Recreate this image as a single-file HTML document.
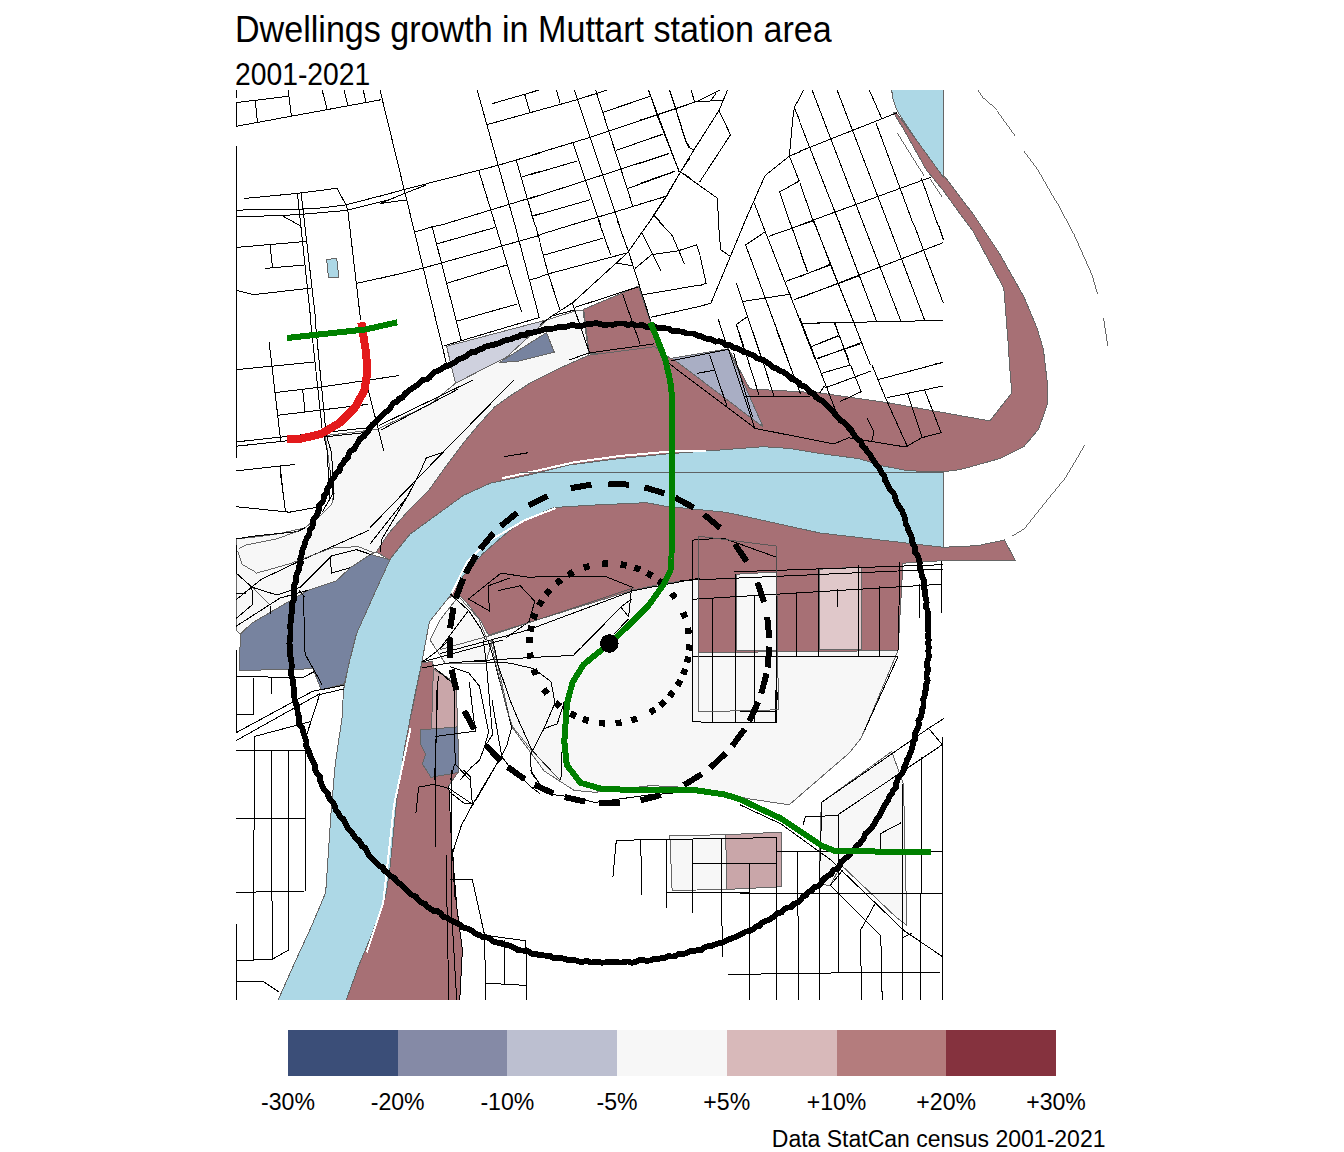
<!DOCTYPE html>
<html><head><meta charset="utf-8">
<style>
html,body{margin:0;padding:0;background:#fff;}
body{width:1344px;height:1152px;position:relative;overflow:hidden;font-family:"Liberation Sans",sans-serif;}
.t{position:absolute;white-space:nowrap;color:#000;line-height:1;}
#title{left:235px;top:11px;font-size:34.1px;transform:scaleY(1.085);transform-origin:0 0;}
#sub{left:235px;top:59px;font-size:28.3px;transform:scaleY(1.09);transform-origin:0 0;}
#map{position:absolute;left:0;top:0;}
.lg{position:absolute;top:1030px;height:46px;width:110px;}
.ll{position:absolute;top:1091.3px;font-size:23.1px;width:100px;text-align:center;}
#cap{right:238.5px;top:1128.3px;font-size:23px;}
</style></head><body>
<div class="t" id="title">Dwellings growth in Muttart station area</div>
<div class="t" id="sub">2001-2021</div>
<svg id="map" width="1344" height="1000" viewBox="0 0 1344 1000" shape-rendering="crispEdges">
<clipPath id="mc"><rect x="0" y="90" width="1344" height="910"/></clipPath>
<g stroke-width="1" stroke-linejoin="round" clip-path="url(#mc)">
<polygon fill="#f7f7f7" stroke="#666" points="459.3,595.4 467.1,603.2 480.6,620.6 488.4,635.1 633.5,590 662.5,583.8 700,578.6 698.1,652.6 898,650.6 864.8,729.9 860.3,739.2 849.3,752.9 789.2,804.8 750,799 695.5,787.9 650.9,785.6 595.1,792.3 573.9,790.3 544.2,771 511.4,726.3 492.1,640 486,663 445,663 430,640 440,620"/>
<polygon fill="#f7f7f7" stroke="#666" points="325.3,435.6 376.9,429.4 430,404.4 455.5,383.2 506.7,357 547.1,319.8 575,311 583,310 588.8,355.2 560,368 530,383.1 510.6,395.6 495,406.6 479.4,423.8 463.8,442.5 445,467.5 429.4,489.4 409.1,509.7 388.8,533.1 376.3,551.9 370.6,554.4 350.3,567.7 336.3,580.9 308.1,590.3 251.9,623.1 240.2,634.1 236.3,630 236.3,538.8 253.4,537.2 276.9,534.1 305,527.8 322.2,513.8 331.6,504.4 334.1,493.4 330,470"/>
<polygon fill="#f7f7f7" stroke="#666" points="822,802.1 891.7,751.5 903.5,784.3 906.8,925.1 895.8,916.9 841.1,865 830.2,885.5 819.3,884.1 820.6,815.8"/>
<polygon fill="#c9a6a9" stroke="#666" points="725.7,834.7 750,833.6 781,832.2 781,886.8 750,888.3 726.8,889.4"/>
<polygon fill="#f7f7f7" stroke="#666" points="669.9,835.8 725.7,834.7 726.8,889.4 672.1,890.5"/>
<polygon fill="#a77075" stroke="#666" points="422,662 424.9,662.5 432.1,661.3 434,668 449.2,678.9 456.4,691 457.7,727.5 458.3,772 448.8,785.7 451.5,843.1 457,908.8 462.4,949.8 459.7,1000.4 346.2,1000.4 358.5,966.2 372.2,933.4 385.9,895.1 390,867.7 396.8,799.4 405,744.7"/>
<polygon fill="#a77075" stroke="#666" points="583.7,309.3 638.4,286.2 650,320.8 661.5,360 589.2,353"/>
<polygon fill="#a77075" stroke="#666" points="893.5,112.9 896,112.3 914.2,137.2 943.4,174.9 974.5,215.9 999.3,253.2 1024.1,297.2 1037,328 1043.4,349.2 1047.1,380.8 1047.1,405.1 1038.5,429.4 1024,446.4 999.6,458.6 960.7,469.5 941.3,472 907.3,470.7 882.9,465.9 858.6,458.6 820,453.5 790,448.5 763.1,446.7 714.5,450.4 665.9,454 617.3,458.9 568.6,465 530,474.7 490.2,483.2 463.4,495.4 436.7,514.8 409.9,534.3 389.3,559.8 376.3,551.9 388.8,533.1 409.1,509.7 429.4,489.4 445,467.5 463.8,442.5 479.4,423.8 495,406.6 510.6,395.6 530,383.1 560,368 588.8,355.2 654.7,346.7 670.8,358.8 728.4,348.7 749.8,388.9 819.7,392.9 887.8,402.7 989.9,420.9 1011.8,392.9 1009.4,363.8 1008.3,345 1003.8,288.2 973.3,231.7 960,213.8 943.4,190.7 926.4,170 903.3,128.7"/>
<polygon fill="#a9aec4" stroke="#666" points="672.1,358.1 728.4,348.7 763.2,427.1"/>
<polygon fill="#cfd1de" stroke="#666" points="446.5,346.3 547.1,319.8 506.7,357 455.5,383.2"/>
<polygon fill="#77839f" stroke="#666" points="499.5,362.4 546.5,332.6 554.3,352.3 517.4,361.4"/>
<polygon fill="#77839f" stroke="#666" points="240.2,634.1 239.7,670.4 302.9,669.2 312.7,668 321.2,689.9 344.3,683.8 349.1,663.1 356.4,634 375.9,590.2 390.2,559.8 370.6,554.4 350.3,567.7 336.3,580.9 308.1,590.3 251.9,623.1"/>
<polygon fill="#add8e6" stroke="#666" points="891.2,87 943.4,87 943.4,177.3 915.4,138.5 898.4,112.9 896,108.1 892.9,98.4"/>
<polygon fill="#a77075" stroke="#666" points="943.2,547.3 977.8,545.6 1004.5,540 1015.4,560.7 950,560.2 903,563.2 898,650.6 698.1,652.6 698.1,579 700,578.6 662.5,583.8 633.5,590 488.4,635.1 480.6,620.6 467.1,603.2 459.3,595.4 448.8,597.5 463.4,575.6 482.9,553.7 502.3,536.7 520,522.1 554,507.5 593,505.1 646.4,502.7 665.9,506.3 726.7,512.4 820,533"/>
<polygon fill="#f7f7f7" stroke="#666" points="736.2,574.2 776.4,572 776.4,650.6 736.2,650.6"/>
<polygon fill="#e0c8ca" stroke="#666" points="819.6,569.2 861.8,567 861.8,649.6 819.6,649.6"/>
<polygon fill="#add8e6" stroke="#666" points="943.2,472 907.3,470.7 882.9,465.9 858.6,458.6 820,453.5 790,448.5 763.1,446.7 714.5,450.4 665.9,454 617.3,458.9 568.6,465 530,474.7 490.2,483.2 463.4,495.4 436.7,514.8 409.9,534.3 390.5,558.6 375.9,590.2 356.4,634 349.1,663.1 343.5,690 342.1,717.3 335.3,763.8 331.2,810.3 325.7,892.4 312,925.2 295.6,960.7 277.9,1000.4 346.2,1000.4 358.5,966.2 372.2,933.4 385.9,895.1 390,867.7 396.8,799.4 405,744.7 415.9,690 422.1,660.7 429.4,621.8 448.8,597.5 463.4,575.6 482.9,553.7 502.3,536.7 520,522.1 554,507.5 593,505.1 646.4,502.7 665.9,506.3 726.7,512.4 820,533 943.2,547.3"/>
<polygon fill="#c9a6a9" stroke="#666" points="433.4,669.2 449.2,678.9 456.4,691 457.7,727.5 431.5,728.7"/>
<polygon fill="#77839f" stroke="#666" points="420,729.9 457.7,726.9 458.9,772.4 430.9,777.3 422.4,763.9 425.5,754.2 421.2,745.7 420,743"/>
<polygon fill="#add8e6" stroke="#666" points="326.2,259.6 336.3,258.4 337.5,263.3 338.5,277.2 328.4,277.2 327.2,263.8"/>
<polyline fill="none" stroke="#fff" stroke-width="2" points="502.3,478.2 540,470 574.7,462.2 620,456 671.1,451.4 705.6,451.2"/>
<polyline fill="none" stroke="#fff" stroke-width="2" points="451.6,593.5 467.1,561.6 488.4,541.3 525.1,520 555.5,508.1"/>
<polyline fill="none" stroke="#fff" stroke-width="2" points="410.5,728.3 394.1,804.8 383.1,903.3 366.7,952.5"/>
</g>
<path fill="none" stroke="#000" stroke-width="1" d="M236.3 180 L236.3 320 M244 198.5 L297.4 193.4 L336.9 188.3 L346 204.9 L347.8 210.4 L360.6 320 M297.4 193.4 L310.8 320 M301.1 192.8 L315.7 320 M236.3 210.1 L299.9 209.2 L322.3 207.9 L346 204.9 L390 193.4 M236.3 216.4 L278.6 215.8 L305.3 214 L346.6 210.4 L390 199.4 M283.5 216.4 L299.9 225.6 M236.3 247.4 L306.5 241.4 M270.1 245 L272.5 268.1 M265.2 268.4 L304.1 265 M236.3 290.3 L251.9 294.2 L259.2 294 L310.8 288.1 M357 283.3 L390 276 M530 92.5 L538.7 90.1 M530 112.7 L577.4 99.6 L606.8 90.1 M556.5 90.1 L560.1 103.2 M574.3 90.1 L619.3 225 M595.6 90.1 L632.7 205.9 M573.1 143.3 L600.5 225 M648.5 90.1 L657 114.8 L679.4 172.5 M669.5 90.1 L675.8 109.3 L685.5 140.9 L690 147.6 M530 207.7 L534.9 225 M530 155.5 L590.7 137.2 L657.6 114.8 L690 103.8 M602.9 112.3 L649.7 96.5 M615.7 150.6 L662.4 134.2 M530 174.9 L577.4 160.9 M530 198.6 L668.5 153.6 M628.4 188.3 L675.2 171.3 M532.4 216.2 L590.1 199.8 M571.3 225 L615 212 L666.1 196.2 M690 157.9 L680.6 171.9 L666.1 196.2 L647.2 225 M680.6 171.9 L690 177.9 M653.9 215.2 L663 225 M803.6 90.1 L800 96.5 M800 122.7 L840.1 225 M812.1 90.1 L863.8 225 M837.1 90.1 L888.7 225 M869.3 90.1 L882 119 M875.9 122.7 L913.6 225 M921.5 178.5 L937.9 225 M800 183.4 L814.6 225 M800 151.2 L897.2 112.7 M800 225 L835.2 212 L930.6 177.3 M815.2 225 L870.5 365 M840.1 225 L876.5 321 M863.8 225 L900.8 321 M888.7 225 L924.5 319.8 M914.2 225 L943.4 303.4 M938.5 225 L943.4 239.6 M800 251.1 L807.3 271.8 M800 276.6 L829.8 264.5 M800 297.9 L943.4 242.6 M801.8 323.4 L943.4 320.4 M800 318.5 L837.7 416 M834.6 322.2 L849.8 365 M811.5 346.5 L838.3 335.6 M816.4 359.2 L860.7 342.8 M934.9 364.1 L943.4 362.3 M640 99.6 L649.7 96.5 M648.5 90.1 L679.5 172.5 M669.8 90.1 L675.8 108.7 L686.2 142.1 L688.6 147 L693.5 150 M691 90.1 L694.7 102 M640 120.2 L697.1 101.4 L722.6 100.6 M697.1 101.4 L720.2 90.1 M711.1 100.2 L715.9 93.5 M727.5 90.1 L719 110.5 L693.5 150.6 L680.1 172.5 L666.7 196.2 L647.3 225 M719 110.5 L730.5 134.8 L699.5 182.2 M681.3 172.5 L717.1 198 L719 225 M640 142.1 L663.1 134.2 M640 163.4 L669.2 153.6 M640 183.4 L674.6 171.3 M640 204.1 L666.7 196.2 M654 215.6 L662.5 225 M800 97.1 L794.3 107.5 L792.5 121.4 L789.4 155.5 M794.3 107.5 L800 121.4 M800 151.8 L789.4 156.1 L765.1 175.5 L743.3 225 M789.4 156.1 L799.2 181 L779.7 191.9 L790.6 225 M753.6 201.6 L762.7 225 M380 90.1 L412.8 225 M477.2 90.1 L514.9 225 M491.8 103.8 L539.2 90.1 M524.6 94.1 L530 112.3 M487.5 124.5 L540 109.9 M380 196.2 L404.3 189.5 L498.5 165.2 L540 153 M380 203.5 L405.5 193.1 L425.6 185.2 M380 203.5 L407.3 199.8 M479 171.3 L495.4 225 M516.1 159.7 L534.9 225 M520.9 177.3 L540 171.3 M441.4 225 L540 195 M530.6 216.2 L540 213.8 M236.3 102.6 L288.2 96.3 M236.3 102.6 L236.3 126.3 M236.3 126.3 L381.2 99.7 M255.3 100.3 L257.5 123.4 M288.2 90 L291.4 115.9 M322.1 90 L327.5 110.5 M344 90 L348.1 105.8 M363.2 90 L366.1 102.2 M412.8 225 L446.8 365 M432.2 226.8 L461.4 341 M495.4 225 L521.5 311.9 M514.9 225 L539.2 317.3 M535.5 225 L540 242 M415.2 232 L432.2 226.8 L440.7 225 M437.1 243.8 L495.4 227.4 M380 278.5 L423.1 268.1 L540 235.3 M446.8 283.3 L506.4 265.1 M457.1 321 L517.3 304 M530 279.7 L540 277.2 M443.8 345.9 L540 317.3 M435.8 652.1 L446.1 643 L452.2 640 M422.4 661.9 L502.6 640 M422.4 667.9 L447.9 663.1 L471 661.3 L509.9 663.1 L533.6 668.6 L551.2 681.9 L554.9 703.2 L543.9 728.7 L530.6 754.2 L531.2 772.4 L536.6 780 M573.7 655.2 L580 647.9 M422.4 661.9 L435.8 652.1 M434.6 667.9 L450.4 681.3 M450.4 666.7 L468.6 672.8 L479.5 686.2 L488.6 732.3 L484.4 746.9 L479.5 760.3 L471 767.6 L460.1 780 M469.2 681.9 L475.3 731.1 L434.6 736.6 M483.2 640 L486.2 661.9 L492.5 734.6 L485 746.4 M488 640 L495.3 664.3 L511.1 725 L511.7 727.7 L506.9 745.1 L500.8 757.6 L497.3 763.1 L476 800 M438.2 676.4 L434.6 780 M454 688.6 L455.2 763.9 L469.8 780 M454.6 763.9 L450.4 780 M564.6 700.7 L557.3 723.8 L543.9 728.7 M564 703.2 L560.9 780 M616.3 840.3 L776.8 837.6 M616.3 840.3 L612.9 877.1 M640.8 839.2 L641.5 895 M666.5 839.2 L666.5 908.4 M692.2 839.2 L692.2 912.9 M721.2 838.1 L722.3 957.5 M692.2 863.8 L776.8 863.8 M666.5 892.8 L750 892.8 M727.9 974.2 L750 974.2 M749.1 863.8 L749.1 1001 M450 879.4 L472.3 879.4 L484.6 935.2 L525.9 940.8 L527 1001 M484.6 935.2 L485.7 1001 M504.7 939.6 L504.7 984.3 M485.7 983.2 L525.9 985.4 M450 792.3 L464.5 803.5 L472.3 803.5 L470.1 776.7 L463.4 770 M451.8 770 L451.8 915.1 L456.7 999.9 M530.4 770 L539.3 783.4 L552.7 794.6 L570.5 796.8 L595.1 802.4 M595.1 802.4 L650.9 794.6 L673.2 793.4 M740 711.9 L775.5 711.9 L778.3 690 M740 722.8 L775.5 722.8 L775.5 690 M822 802.1 L928.6 728.3 L943.7 718.7 M928.6 728.3 L942.3 744.7 M942.3 736.5 L942.3 1000.3 M838.4 814.4 L942.3 744.7 M822 802.1 L819.3 881.4 L819.3 1000.3 M838.4 814.4 L838.4 972.9 M802.9 825.3 L805.6 816.3 L838.4 815.8 M776.6 851.3 L942.3 851.3 M740 893.7 L942.3 893.7 M740 974.3 L838.4 972.9 L939.6 972.9 M749.6 863.6 L749.6 1000.3 M776.9 837.6 L776.9 1000.3 M797.4 851.3 L798.8 1000.3 M921.8 757 L920.4 1000.3 M902.7 784.3 L902.7 1000.3 M740 804.8 L781 824 L830.2 859.5 L904 930.6 L942.3 956.5 M830.2 885.5 L842.5 870.4 M875.3 903.2 L860.3 930.6 L861.7 1000.3 M830.2 885.5 L880.8 936 L882.2 1000.3 M880.8 848.6 L880.8 833.5 L901.3 822.6 M902.7 937.4 L912.2 933.3 M236 750.2 L305.2 750.2 M254.6 736.5 L253.2 960.7 M271 750.2 L272.4 959.3 M288.8 750.2 L288.8 949.8 M305.2 750.2 L305.2 891 M236 818.5 L305.2 818.5 M236 892.4 L305.2 891 M236 960.7 L272.4 959.3 L288.8 949.8 M236 923.8 L236 1000.4 M236 981.2 L262.8 981.2 L279.2 992.2 M320.2 692.7 L306.6 735.1 M436.5 690 L435.1 847.2 M415.9 813.1 L418.7 787.1 L433.7 784.3 L448.8 788.4 L473.4 804.8 M448.8 785.7 L451.5 843.1 L457 908.8 L462.4 949.8 L459.7 1000.4 M446 854.1 L448.8 1000.4 M236.2 320 L236.2 458.3 M310.5 320 L322.2 429.4 L326.9 448.1 L330 500 M315.2 320 L326.1 434.1 L331.6 452.8 L333.9 500 M269.1 341.9 L280.8 441.9 M236.2 369.7 L315.2 361.9 M274.5 392.7 L322.2 386.9 L399.5 375.5 M302.7 389.5 L305 412.2 M277.7 415.3 L367.5 404.4 M236.2 441.9 L367.5 427.8 M236.2 446.2 L365.9 432.5 M367.5 387.2 L383.9 451.2 M236.2 470.8 L294.8 464.5 M280 465.3 L283.9 500 M280 470 L285.5 511.4 M236.2 506.7 L289.4 512.2 L315.9 507.5 M236.2 538.8 L258.1 535.6 L297.2 531.7 L305 527.8 M236.2 573.1 L251.9 587.2 L276.9 595 L300.3 587.2 L331.6 555.9 L356.6 549.7 L370.6 554.4 M236.2 599.7 L261.2 579.4 L297.2 562.2 L369.1 530.2 M236.2 593.4 L245.6 593.4 M251.9 587.2 L252.7 604.4 L236.2 618.4 M236.2 626.2 L280 598.1 L308.1 590.3 M270.6 605.9 L270.6 613.8 M303.4 595 L305 650 M298.8 590.3 L305 597.3 M330 557.5 L331.6 573.1 L350.3 567.7 M322.2 512.2 L333.1 493.4 L330 470 M236.2 545 L236.2 573.1 M440 653.5 L527.1 630.3 L633.5 590.6 L700 578 M471 661.2 L532.9 657.4 L573.5 655.4 L621.9 606.1 L631.5 599.3 M449.7 593.5 L469 610.9 L480.6 628.3 L485.5 639.9 M468.1 599.3 L500.9 573.2 L528 577.1 L604.4 576.1 L633.5 587.7 M469 599.3 L489.3 610.9 L488.4 585.8 L509.6 578 M498 590.6 L520.3 585.8 L534.8 601.3 L529 621.6 L505.8 638 M440 648.7 L468.1 610.9 M620.9 607.1 L628.6 616.7 L631.5 588.7 M614.1 634.1 L628.6 618.7 M540 234.6 L587.4 220 M540 243.1 L548.5 274.7 L560 309.9 M543.6 255.2 L603.2 238.2 M598.3 220 L610.5 254.6 M617.1 220 L628.7 252.2 L650.6 320.8 M540 276.5 L549.7 273.5 L627.5 252.8 M650.6 220 L627.5 252.8 L572.8 302.6 L552.1 316 L540 324.5 M615.9 263.1 L632.3 265.6 M634.8 268.6 L651.8 254.6 L677.3 251 L696.7 244.9 L700 255.2 M642.1 233.4 L660.9 270.4 M657.8 220 L672.4 235.8 L677.3 247.3 L684.6 264.3 M643.3 294.7 L700 285 M651.2 317.2 L700 306.3 M572.2 302.6 L589.8 353.6 M574.6 307.5 L638.4 286.8 M622.6 294.1 L640.2 344.5 M552.1 316 L574.6 309.9 M588.6 353 L654.2 343.9 M569.2 360 L588.6 353 M718.2 220 L720.7 249.8 L730.4 256.4 M745.6 220 L710.9 303.2 L700 306.3 M700 255.8 L706.1 283.2 L700 285.6 M760.7 220 L815.4 360 M745.6 244.9 L788.1 360 M789.3 220 L807.5 271.6 M813.6 220 L830.6 265 L837.9 283.2 L853.7 322.1 L860 338.5 M838.5 220 L859.2 275.9 M736.4 283.2 L747.4 316.6 L762 360 M718.2 319 L725.5 341.5 M736.4 324.5 L743.7 348.8 M745.6 244.9 L765.6 231.5 M768.6 236.4 L813.6 220.6 M785.7 281.4 L830.6 265 M743.1 301.4 L790.5 294.1 M794.2 299.6 L859.2 275.9 M802.7 323.3 L860 322.1 M811.8 346.4 L838.5 336 M816.6 358.5 L860 343.9 M736.4 324.5 L747.4 316.6 M834.2 322.7 L848.8 360 M850.6 365 L861.1 391.7 M872 365 L885.4 397.8 L907.3 446.4 M820.9 373.5 L850.1 365 M824.6 388.1 L870.8 371.1 M840.4 401.4 L861.1 391.7 M878.1 379.6 L942.5 362.5 M886.6 397.8 L942.5 386.1 M907.3 392.9 L921.8 436.7 M924.3 389.3 L941.3 433.1 M819.7 392.9 L824.6 385.6 M692.1 540.1 L723.2 538.1 L776.4 557.2 L776.4 722.9 L692.1 721.9 L692.1 540.1 M712.1 599.3 L712.1 722.9 M735.2 574.2 L735.2 722.9 M754.3 596.3 L754.3 722.9 M692.1 599.3 L941.1 584.3 M692.1 656.6 L898 656.6 M796.5 592.3 L796.5 655.6 M818.6 568.2 L818.6 655.6 M858.8 565.2 L858.8 655.6 M879.9 586.3 L879.9 655.6 M900 562.2 L898 650.6 M919.1 584.3 L919.1 618.4 M941.1 561.2 L941.1 613.4 M837.7 589.3 L837.7 607.4 M898 656.6 L864.8 729.9 M236.3 146 L236.3 181 M236.3 676.1 L258 676.7 L301.7 678 L313.8 671.9 M253.8 678 L253.8 714.4 L236.3 714.4 M271.2 678 L271.2 693.8 M304 648 L306 655.8 L321.9 684.3 M503.7 456.8 L527.8 452.8 M800 437.2 L834 443.9 L848.6 437.8 L905.7 447 L921.5 437.8 L942.1 432.4 M866.8 417.8 L874.1 431.8 L871.7 441.5 M236.5 90 L236.5 97.5 M680 580.6 L943 569 M734 571.8 L943 564.7 M670.8 360.8 L727.7 349.4 M668.1 362.8 L755.2 428.4 L820 441.2 M709.6 354.8 L727 406.3 M696.9 373.5 L713.7 370.2 M728.4 348.7 L754.5 427.8 M733.7 353.4 L752.5 417 M744.5 396.3 L810.1 397 M738.4 330 L759.2 395.6 M752.5 330 L773.9 395.6 M776.6 330 L800.7 394.3 M370 527.7 L443.4 451.9 L513.8 380 M370 544 L407.5 496.4 M407.5 496.4 L420 472.2 L426.2 458.1 L444.2 451.9 M407.5 496.4 L381.7 539.4 L380.2 551.9 M379.4 425.3 L473.1 380 M380.9 430 L457.5 389.4 M492.9 640 L497.8 664.3 L510 700 L518.3 720 L532.2 750.6 L559.7 780 M492 700 L495.4 720 L501.7 756.1 L508.6 765.8 L530.8 786.7 L540 793.6 M499 760 L472.3 805 L461.3 825.6 L452.8 852.4 L454 881.5 L455.2 900 M236.3 650 L236.3 732.6 M236.3 732.6 L312.6 691.3 L344.2 685.2 M236.3 740.5 L317.5 695 L344.2 688.9 M254.9 736.3 L310.2 721.7"/>
<path fill="none" stroke="#555" stroke-width="0.9" d="M897.2 133 L923.9 175.5 M930.6 178.5 L942.8 196.8 M237.8 551.2 L242.5 565.3 L256.6 573.1 L289.4 563.8 L331.6 548.1 L358.1 546.6 L373.8 552.8 M239.4 548.1 L245.6 545 L276.9 538.8 L298.8 530.9 M253.4 588.8 L269.1 604.4 M459.3 597.4 L478.7 618.7 L487 639.9 M440 649.6 L488.4 636.1 L633.5 587.7 M698.1 536.1 L776.4 546.1 L778.4 709.8 L698.1 711.8 L698.1 536.1 M520 472.3 L943 472.3 M977.9 90 L983.5 98.5 L997 111 L1015.1 135.8 M1024.1 150.5 L1037.7 168.5 L1055.7 200.1 L1073.8 234 L1091.9 274.6 L1097.5 293.8 M1103.6 318 L1107.7 345.9 M1084.7 445.2 L1065.3 478 L1043.4 504.8 L1024 529.1 L1011.8 536.4 M490.5 640 L495.3 661.9 L507 710 L512.8 726.9 L532.2 751.2 L559.7 780"/>
<path fill="none" stroke="#000" stroke-width="5.8" stroke-linejoin="round" d="M928.1 643.5 L928.8 647.2 L928.3 650.9 L928.7 654.7 L928.6 658.4 L927.2 662 L926.9 665.7 L928.4 669.5 L926.8 673.1 L926.4 676.8 L927.7 680.7 L926.1 684.3 L926.4 688 L925.1 691.6 L924.8 695.3 L923.2 698.8 L923.6 702.7 L923.4 706.4 L921.9 709.9 L921.6 713.7 L920.6 717.3 L918.4 720.6 L919 724.5 L917.7 728 L916.1 731.4 L914.5 734.8 L915.2 738.9 L913.2 742.2 L912.6 745.9 L911.7 749.6 L910.1 753 L909.3 756.6 L906.9 759.7 L906.3 763.5 L904.2 766.6 L903.7 770.5 L902.1 773.8 L899 776.5 L897.6 779.9 L896.1 783.3 L895.9 787.4 L893.2 790.2 L891.9 793.7 L889.5 796.6 L888 800.1 L886 803.2 L884 806.3 L882.5 809.8 L880.6 813 L879.2 816.5 L876.7 819.3 L875.1 822.7 L872.9 825.7 L871 828.9 L868.2 831.5 L865.1 833.9 L864.1 837.7 L862 840.8 L859.5 843.7 L856.6 846.1 L854.5 849.1 L851.2 851.3 L849.8 854.9 L846.9 857.3 L843.9 859.6 L841 862 L839.7 865.9 L837.3 868.8 L833.2 870 L831.7 873.7 L828.4 875.6 L825.3 877.7 L822.7 880.4 L820.6 883.7 L818 886.3 L813.9 887.3 L811.9 890.6 L808.2 891.9 L806.2 895.4 L802.7 897 L800.5 900.2 L797.6 902.5 L794 903.8 L791.5 906.9 L787.6 907.7 L784.2 909.3 L781.7 912.3 L777.9 913.2 L775 915.5 L772 917.8 L769 920 L765.3 921 L762 922.5 L759.6 925.9 L755.7 926.5 L753 929.5 L749.6 931 L745.8 931.6 L742.5 933.3 L739.2 935 L735.9 936.7 L732.4 938.1 L728.9 939.4 L725.5 940.9 L722.3 942.9 L718.5 943.3 L715 944.4 L711.7 946.2 L707.8 946.3 L704.3 947.6 L701.2 950.1 L697.3 950.2 L693.8 951.3 L689.9 951.1 L686.5 952.9 L683 954.1 L679.1 953.7 L675.8 955.8 L672.2 956.6 L668.3 956.1 L664.8 958 L661.1 958.2 L657.5 959.3 L653.8 959.1 L650.2 960.4 L646.5 960.9 L642.6 959.8 L639 960.2 L635.4 961.9 L631.7 962.8 L627.9 961.5 L624.2 962.1 L620.5 962.6 L616.8 962.1 L613.1 962.2 L609.4 962.2 L605.7 962.3 L602 962.7 L598.3 961.9 L594.6 962 L590.8 962.6 L587.2 960.7 L583.4 961.7 L579.7 961.7 L576.1 960.4 L572.4 959.8 L568.6 960.6 L565.1 958.9 L561.4 958.2 L557.7 958.2 L553.9 958.1 L550.5 956.2 L546.8 955.9 L543.1 955.2 L539.3 955.5 L535.9 953.8 L532 953.8 L528.8 951.4 L525.1 950.8 L521.4 950.5 L517.7 949.9 L514.4 947.9 L511 946.3 L507.6 944.9 L503.8 944.6 L500.5 942.6 L496.6 942.6 L493.1 941.3 L490.2 938.6 L486.7 937.4 L482.8 937 L479.5 935.2 L476 934 L473 931.5 L469.9 929.5 L466.4 928.2 L462.6 927.5 L459.9 924.7 L456.5 923.1 L453.2 921.5 L450 919.6 L446.8 917.8 L443 916.8 L440.7 913.4 L437.8 911.2 L433.5 910.9 L430.5 908.7 L427.3 906.8 L424.9 903.7 L421.2 902.5 L418.3 900.2 L416.2 896.8 L412.6 895.4 L409.5 893.3 L406.9 890.7 L404.2 888.1 L401.7 885.3 L398.8 883 L396.2 880.3 L393.7 877.6 L390.2 875.9 L387.9 872.9 L384.4 871.1 L383 867.3 L379 866 L376.8 863 L373.9 860.6 L371.4 857.8 L368.9 855 L367 851.8 L365.5 848.2 L361.9 846.3 L360.5 842.7 L358 839.9 L355.1 837.5 L353.1 834.3 L351 831.2 L347.9 828.9 L346.4 825.4 L344.8 822 L342.9 818.8 L339.7 816.4 L338.4 812.8 L335.9 810 L334.8 806.3 L333.2 803 L330.7 800.1 L328.4 797.2 L327.8 793.2 L324.9 790.6 L323 787.4 L321.5 783.9 L319.9 780.6 L319.9 776.4 L317.2 773.6 L315.2 770.4 L315.4 766.3 L313.5 763 L312.2 759.6 L310.3 756.3 L309.3 752.7 L307.9 749.3 L306.1 746 L306.5 741.9 L305.3 738.4 L304.1 734.9 L303.1 731.3 L302.2 727.7 L299.3 724.7 L298.7 721 L299.4 717 L297.7 713.5 L297.4 709.8 L296.6 706.2 L295.8 702.6 L294.5 699 L294.1 695.3 L294 691.6 L293.8 687.9 L293 684.2 L293.1 680.5 L291.7 676.9 L291 673.2 L291.4 669.5 L291.8 665.7 L291.4 662 L290.7 658.3 L290.1 654.7 L289.6 650.9 L290.4 647.2 L289.4 643.5 L289.9 639.8 L290.3 636.1 L290.6 632.4 L290.4 628.6 L290.2 624.9 L291 621.2 L290.7 617.5 L291.5 613.8 L292.3 610.2 L292.1 606.4 L292.2 602.7 L294 599.2 L293.7 595.4 L294.3 591.7 L293.9 587.9 L294.4 584.2 L296.3 580.7 L295.9 576.9 L296.9 573.3 L298.8 569.9 L299.2 566.2 L300.8 562.7 L300.3 558.7 L301.6 555.2 L302.1 551.5 L303.3 548 L304.7 544.5 L305.6 540.9 L307.2 537.5 L309.3 534.3 L309.6 530.4 L312 527.4 L313.1 523.8 L313.1 519.8 L316 516.9 L317.4 513.5 L318.8 510 L318.8 505.9 L321.7 503.2 L323.6 500 L323.7 495.8 L326.7 493.2 L327.1 489.1 L329.1 486 L330.6 482.5 L332.2 479.2 L334.8 476.3 L336.3 472.9 L339.7 470.6 L340.3 466.5 L342.8 463.7 L344.5 460.3 L347.7 458 L348.7 454.1 L350.6 450.8 L354.3 448.9 L356.1 445.6 L358 442.3 L359.8 439 L363.2 436.9 L365.7 434.1 L368 431.2 L369.9 427.8 L372.2 424.8 L375.3 422.6 L377.9 419.9 L380.4 417.2 L383.2 414.6 L385.7 411.9 L388.9 409.8 L391 406.6 L393.1 403.3 L396.7 401.7 L399.1 398.7 L402.8 397.3 L404.9 394 L407.8 391.5 L410.8 389.3 L414 387.3 L417.1 385.2 L419.9 382.7 L422.6 380 L426.7 379.3 L429.8 377.3 L432.2 374.1 L435.1 371.7 L438.8 370.5 L442.1 368.7 L445 366.3 L448.9 365.5 L452.1 363.5 L455.4 361.9 L458.3 359.4 L462 358.2 L465.4 356.8 L468.3 354.3 L471.5 352.2 L475.5 352 L478.6 349.7 L482.3 348.8 L485.4 346.5 L489.1 345.7 L492.8 345 L496.4 343.9 L500 343 L503.2 340.9 L506.9 340 L510.6 339.3 L514 337.8 L517.6 336.9 L520.9 334.9 L524.9 335.3 L528 332.6 L531.9 332.8 L535.5 331.8 L539.2 331.3 L542.7 329.7 L546.4 329.1 L550.2 329 L553.9 328.5 L557.5 327.4 L561.1 326.6 L564.9 327.1 L568.5 325.9 L572.2 325 L576 325.7 L579.7 325.9 L583.4 325.5 L587.1 324.2 L590.8 324.1 L594.5 323.3 L598.2 323.4 L602 324.6 L605.7 324.7 L609.4 324.5 L613.1 324.7 L616.8 323.6 L620.6 323.4 L624.3 323.4 L627.9 325 L631.7 323.9 L635.4 325.4 L639.1 325.4 L642.9 325.1 L646.4 326.9 L650.1 327.3 L654 326.1 L657.5 327.8 L661.2 328.2 L665 328.3 L668.7 328.7 L672.1 330.8 L675.9 330.8 L679.6 331.3 L683.2 332 L686.7 333.4 L690.5 333.5 L694.4 333.6 L697.6 335.8 L701.3 336.4 L704.6 338.3 L708.3 339.1 L712.1 339.4 L715.3 341.7 L719.4 341.3 L723 342.4 L725.8 345.4 L730 345 L733 347.5 L736.8 348.1 L740.3 349.6 L743.3 352 L747.1 352.7 L750.4 354.3 L754 355.6 L756.8 358.3 L760.6 359.1 L764.2 360.4 L767.2 362.7 L770.3 364.8 L773.1 367.5 L776.7 368.6 L779.8 370.8 L783.4 372.1 L786.5 374.2 L789.5 376.4 L792.2 379.2 L795.8 380.5 L798.9 382.7 L801.3 385.7 L805.3 386.7 L808 389.4 L810.2 392.6 L814.2 393.6 L816 397.3 L819.1 399.4 L822.5 401.2 L825.1 403.9 L827.8 406.5 L830.7 408.9 L833.1 411.8 L835.6 414.7 L838 417.5 L840.4 420.4 L844 422.1 L846.6 424.8 L848.8 427.9 L851.6 430.5 L853.4 433.9 L855.6 436.9 L858.2 439.6 L861.4 441.9 L862.2 446 L865.3 448.3 L867 451.7 L870.1 454.1 L871.5 457.7 L873.6 460.8 L875.8 463.8 L878.1 466.8 L880.5 469.7 L881.6 473.4 L884.5 476 L885 480.1 L887.1 483.2 L888.6 486.6 L890.3 489.9 L893.3 492.5 L894.9 495.9 L895.5 499.8 L897.1 503.2 L899.1 506.4 L901.3 509.5 L902.9 512.8 L904.2 516.3 L905.3 519.9 L905.7 523.8 L907.6 527 L908.4 530.7 L910.4 534 L911.7 537.5 L912 541.3 L913.3 544.8 L915.5 548 L914.9 552 L917.5 555.1 L918.7 558.7 L919.7 562.3 L919.4 566.2 L920.6 569.7 L921.5 573.4 L922.3 577 L923.8 580.5 L923.8 584.3 L923.6 588.1 L925.5 591.6 L925.2 595.4 L926 599 L926.7 602.7 L925.6 606.5 L927.6 610.1 L927.7 613.8 L927.7 617.5 L928 621.2 L928.1 624.9 L927.7 628.7 L928.6 632.4 L927.6 636.1 L928.7 639.8Z"/>
<path fill="none" stroke="#000" stroke-width="6" d="M570.8 488.2 L591.5 484.5 M608.4 483.5 L629.3 484.7 M644.4 487.4 L664.5 493.3 M675.1 497.6 L693.6 507.5 M704 514.5 L720.1 527.9 M734.9 544.2 L746.8 561.5 M757.3 582.4 L764 602.3 M767.2 617.1 L769.3 637.9 M769.4 646.6 L767.6 667.5 M766.6 673.3 L761.3 693.6 M758.2 702.2 L749.3 721.2 M744.6 729.1 L732.2 746 M725.8 753.3 L710.4 767.6 M701.8 774.1 L683.9 785.1 M660.9 795 L640.6 800.4 M620.4 803.1 L599.5 803.2 M585.1 801.6 L564.6 797.1 M553.5 793.4 L534.4 784.8 M524.8 779.3 L507.7 767 M500.6 760.8 L486.2 745.6 M474.4 729.4 L464.3 711 M456.4 690.2 L451.6 669.7 M450.1 658.4 L449.5 637.5 M450.1 628.3 L453.5 607.6 M455.9 598.2 L463.2 578.5 M465.6 573.3 L476.1 555.1 M480.2 549.1 L493.6 533 M500.8 526 L517.1 512.8 M528.5 505.4 L547.3 496"/>
<path fill="none" stroke="#000" stroke-width="6.5" d="M529.4 643.3 L529.6 637.3 M530.3 631.6 L531.4 625.7 M533.2 619.1 L535.3 613.5 M538.9 605.6 L542 600.5 M546.1 594.5 L550 589.9 M556.4 583.5 L561.1 579.7 M568 575 L573.3 572.1 M583.8 567.7 L589.6 566 M601.9 563.8 L607.9 563.5 M620.7 564.3 L626.6 565.4 M634.5 567.5 L640.1 569.6 M647 572.9 L652.2 575.9 M658.6 580.4 L663.2 584.3 M671.6 593.2 L675.2 598 M683.1 612.4 L685.2 618 M687.9 627.9 L688.8 633.8 M689.4 644.5 L689.1 650.5 M688.3 656.6 L687.1 662.5 M685.3 668.8 L683.2 674.4 M680.5 680.3 L677.5 685.5 M673.2 691.7 L669.5 696.4 M664.7 701.3 L660.2 705.3 M655 709.2 L649.9 712.5 M637.1 718.6 L631.4 720.4 M621.6 722.6 L615.6 723.3 M605 723.4 L599 722.8 M588.6 720.8 L582.9 719 M575.8 716.1 L570.4 713.4 M560.1 706.5 L555.5 702.6 M547.2 693.8 L543.6 689 M535.8 674.9 L533.7 669.3 M530.8 658.6 L529.9 652.6"/>
<polyline fill="none" stroke="#e31a1c" stroke-width="8" stroke-linejoin="round" points="361.3,322.3 362.8,332.5 365.9,351.3 367.5,371.6 364.4,390.3 355,407.5 339.4,423.1 320.6,434.1 300.3,438.8 287,439.5"/>
<polyline fill="none" stroke="#008000" stroke-width="6" stroke-linejoin="round" points="650.5,322.5 657.3,339.3 665.4,360 670.2,380.9 671.9,395 671.9,480 671.5,558.5 670.5,570.3 663.1,585.1 648.4,605.7 630.7,623.4 609.4,643.5 583.4,664.7 572.5,682.5 567,703.1 564.3,741.5 566.8,765.1 580.5,782.8 601.1,788.7 636.6,790.2 695.6,790.2 725.1,794.6 740,799.3 781,818.5 822,845.8 835.7,851.3 931.4,851.8"/>
<polyline fill="none" stroke="#008000" stroke-width="6" stroke-linejoin="round" points="287,338 315.9,334.8 365.9,329.4 397.2,322.3"/>
<circle cx="609.4" cy="643.5" r="9.3" fill="#000"/>
</svg>
<div class="lg" style="left:288px;background:#3b4e78"></div>
<div class="lg" style="left:397.7px;background:#858aa6"></div>
<div class="lg" style="left:507.4px;background:#bcbfd0"></div>
<div class="lg" style="left:617.1px;background:#f7f7f7"></div>
<div class="lg" style="left:726.8px;background:#d8b9ba"></div>
<div class="lg" style="left:836.5px;background:#b47c7d"></div>
<div class="lg" style="left:946.2px;width:109.8px;background:#85323e"></div>
<div class="t ll" style="left:238px">-30%</div>
<div class="t ll" style="left:347.7px">-20%</div>
<div class="t ll" style="left:457.4px">-10%</div>
<div class="t ll" style="left:567.1px">-5%</div>
<div class="t ll" style="left:676.8px">+5%</div>
<div class="t ll" style="left:786.5px">+10%</div>
<div class="t ll" style="left:896.2px">+20%</div>
<div class="t ll" style="left:1006px">+30%</div>
<div class="t" id="cap">Data StatCan census 2001-2021</div>
</body></html>
